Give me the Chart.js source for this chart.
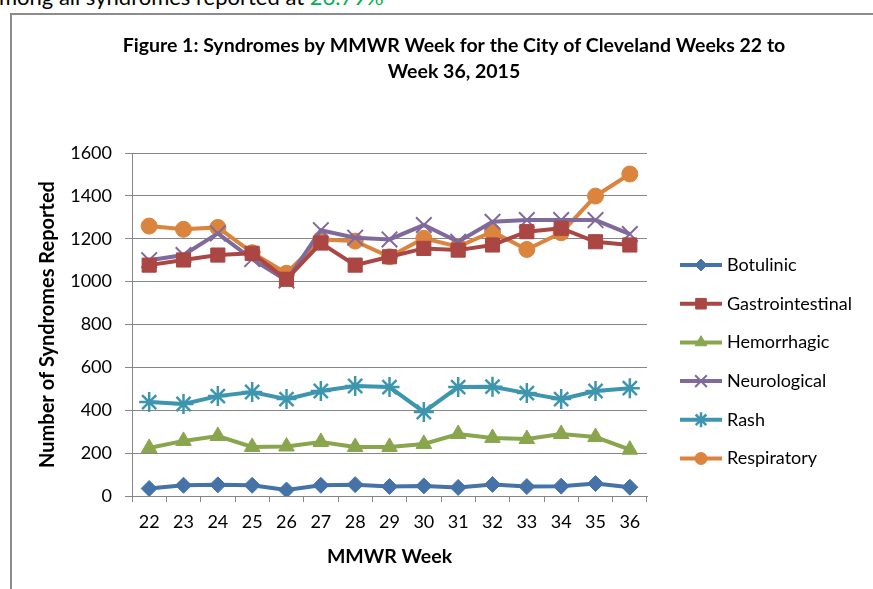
<!DOCTYPE html>
<html>
<head>
<meta charset="utf-8">
<script src="https://cdn.jsdelivr.net/npm/chart.js@4.4.1/dist/chart.umd.min.js"></script>
<style>
    body { margin:0; background:#fff; }
    #pagina { position:relative; width:873px; height:589px; overflow:hidden; font-family:Lato, sans-serif; }
    #texto { position:absolute; left:-1px; top:-14px; font-size:22px; line-height:22px; color:#000; white-space:nowrap; }
    #texto span { color:#00b050; }
    #marco { position:absolute; left:10px; top:13px; width:880px; height:600px; border-left:2px solid #8c8c8c; border-top:2px solid #8c8c8c; }
    #chart { position:absolute; left:0; top:0; }
</style>
</head>
<body>
<div id="pagina">
    <div id="texto">mong all syndromes reported at <span>26.79%</span></div>
    <div id="marco"></div>
    <canvas id="chart" width="873" height="589"></canvas>
</div>
<script>
// semanas MMWR
var semanas = ["22","23","24","25","26","27","28","29","30","31","32","33","34","35","36"];

var botulinic        = [35, 50, 52, 50, 28, 50, 53, 44, 47, 40, 54, 44, 46, 58, 41];
var gastrointestinal = [1077, 1101, 1124, 1132, 1011, 1180, 1077, 1116, 1155, 1147, 1171, 1233, 1249, 1186, 1171];
var hemorrhagic      = [224, 257, 280, 229, 231, 252, 229, 229, 243, 289, 271, 266, 289, 275, 216];
var neurological     = [1100, 1124, 1225, 1105, 1005, 1240, 1205, 1197, 1264, 1186, 1279, 1287, 1287, 1287, 1222];
var rash             = [438, 429, 466, 485, 452, 490, 513, 508, 392, 508, 510, 480, 452, 490, 503];
var respiratory      = [1259, 1244, 1253, 1135, 1039, 1197, 1189, 1116, 1202, 1163, 1233, 1150, 1228, 1399, 1502];

var ticksY = [0, 200, 400, 600, 800, 1000, 1200, 1400, 1600];

var fuente = "Lato, sans-serif";

function serie(nombre, datos, color, estilo, radio, borde) {
    return {
        label: nombre,
        data: datos,
        borderColor: color,
        backgroundColor: color,
        borderWidth: 4,
        pointStyle: estilo,
        pointRadius: radio,
        pointHoverRadius: radio,
        pointBorderWidth: borde,
        pointBackgroundColor: color,
        pointBorderColor: color,
        tension: 0,
        yAxisID: "y"
    };
}

// leyenda dibujada a mano: linea + marcador + texto
var leyenda = {
    id: "leyenda",
    afterDraw: function(chart) {
        var ctx = chart.ctx;
        ctx.save();
        chart.data.datasets.forEach(function(ds, i) {
            var y = 265 + i * 38.7;
            ctx.strokeStyle = ds.borderColor;
            ctx.fillStyle = ds.borderColor;
            ctx.lineWidth = 4;
            ctx.beginPath();
            ctx.moveTo(680, y);
            ctx.lineTo(722, y);
            ctx.stroke();
            ctx.lineWidth = ds.pointBorderWidth;
            Chart.helpers.drawPoint(ctx, {
                pointStyle: ds.pointStyle,
                radius: ds.pointRadius * 0.75,
                rotation: 0,
                borderWidth: ds.pointBorderWidth
            }, 701, y);
            ctx.fillStyle = "#000";
            ctx.font = "18px " + fuente;
            ctx.textBaseline = "middle";
            ctx.textAlign = "left";
            ctx.fillText(ds.label, 727, y);
        });
        ctx.restore();
    }
};

var canvas = document.getElementById("chart").getContext("2d");
window.grafico = new Chart(canvas, {
    type: "line",
    data: {
        labels: semanas,
        datasets: [
            serie("Botulinic", botulinic, "#4572A7", "rectRot", 8, 1),
            serie("Gastrointestinal", gastrointestinal, "#AA4643", "rect", 10, 1),
            serie("Hemorrhagic", hemorrhagic, "#89A54E", "triangle", 9, 1),
            serie("Neurological", neurological, "#80699B", "crossRot", 11, 2),
            serie("Rash", rash, "#3D96AE", "star", 10, 2.5),
            serie("Respiratory", respiratory, "#DB843D", "circle", 8, 1)
        ]
    },
    options: {
        responsive: false,
        animation: false,
        events: [],
        layout: { padding: { left: 35, right: 0, top: 0, bottom: 0 } },
        plugins: {
            legend: { display: false },
            tooltip: { enabled: false },
            title: {
                display: true,
                text: ["Figure 1: Syndromes by MMWR Week for the City of Cleveland Weeks 22 to", "Week 36, 2015"],
                color: "#000",
                font: { family: fuente, size: 19.5, weight: "bold", lineHeight: "26px" },
                padding: { top: 33, bottom: 68 }
            }
        },
        scales: {
            x: {
                offset: true,
                afterFit: function(scale) { scale.height = 93; },
                grid: { offset: true, drawOnChartArea: false, drawTicks: true, tickLength: 6, color: "#868686" },
                border: { display: true, color: "#868686" },
                ticks: { color: "#000", padding: 9, maxRotation: 0, font: { family: fuente, size: 18 } },
                title: {
                    display: true,
                    text: "MMWR Week",
                    color: "#000",
                    font: { family: fuente, size: 19.5, weight: "bold" },
                    padding: { top: 0, bottom: 21 }
                }
            },
            y: {
                min: 0,
                max: 1600,
                afterFit: function(scale) { scale.width = 97; },
                afterBuildTicks: function(scale) {
                    scale.ticks = ticksY.map(function(v) { return { value: v }; });
                },
                grid: { color: "#868686", tickLength: 7 },
                border: { display: true, color: "#868686" },
                ticks: {
                    color: "#000",
                    padding: 13,
                    font: { family: fuente, size: 18 },
                    callback: function(v) { return String(v); }
                },
                title: {
                    display: true,
                    text: "Number of Syndromes Reported",
                    color: "#000",
                    font: { family: fuente, size: 20, weight: "bold" },
                    padding: { top: 1, bottom: 0 }
                }
            },
            // espacio reservado para la leyenda a la derecha
            espacio: {
                type: "linear",
                position: "right",
                display: true,
                afterFit: function(scale) { scale.width = 226; },
                grid: { display: false },
                border: { display: false },
                ticks: { display: false }
            }
        }
    },
    plugins: [leyenda]
});
</script>
</body>
</html>
